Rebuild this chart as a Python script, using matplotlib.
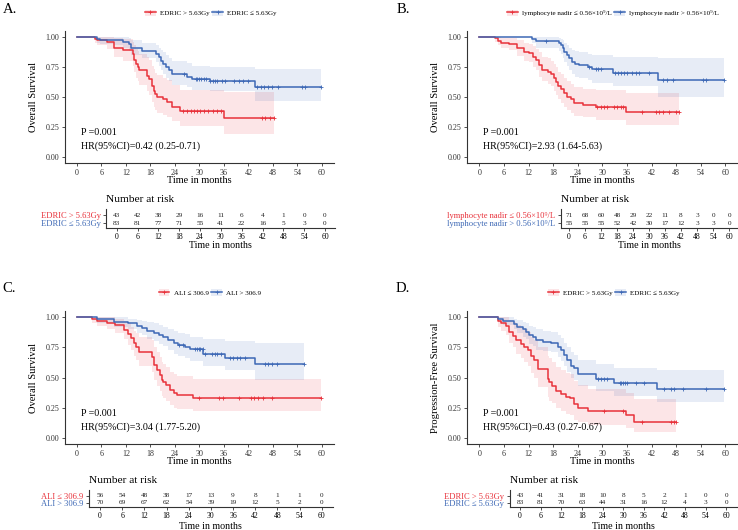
import numpy as np
import matplotlib
matplotlib.use("Agg")
import matplotlib.pyplot as plt
from matplotlib.patches import Rectangle
from matplotlib.lines import Line2D

plt.rcParams['font.family'] = ['Liberation Serif', 'DejaVu Serif']

W, H = 738, 530
RED = '#E8313A'
BLUE = '#3D68B5'
FILL_ALPHA = 0.12

months = [0, 6, 12, 18, 24, 30, 36, 42, 48, 54, 60]

# ---- A: OS by EDRIC ----
a_labels = ['EDRIC > 5.63Gy', 'EDRIC \u2264 5.63Gy']
a_hr = 'HR(95%CI)=0.42 (0.25-0.71)'
a_red_t = [0, 4.5, 5.0, 7.3, 9.0, 11.4, 13.7, 14.1, 14.5, 15.0, 15.3, 17.1, 17.6, 18.4, 18.8, 19.2, 19.6, 21.2, 22.0, 23.3, 25.3, 36.1]
a_red_s = [1.0, 0.983, 0.972, 0.959, 0.909, 0.887, 0.854, 0.81, 0.77, 0.745, 0.72, 0.675, 0.647, 0.59, 0.55, 0.523, 0.50, 0.482, 0.46, 0.42, 0.386, 0.325]
a_red_lo = [1.0, 0.95, 0.93, 0.90, 0.83, 0.80, 0.76, 0.71, 0.66, 0.63, 0.60, 0.55, 0.52, 0.46, 0.42, 0.39, 0.37, 0.35, 0.33, 0.30, 0.26, 0.19]
a_red_hi = [1.0, 1.0, 1.0, 1.0, 0.99, 0.98, 0.96, 0.93, 0.90, 0.88, 0.86, 0.83, 0.81, 0.76, 0.73, 0.70, 0.68, 0.66, 0.64, 0.60, 0.56, 0.54]
a_red_cens = [26.1, 27.0, 28.0, 28.8, 29.4, 30.2, 31.2, 32.2, 33.3, 34.4, 35.3, 45.4, 46.1, 47.2, 48.2]
a_blue_t = [0, 4.9, 5.7, 9.0, 11.4, 12.7, 13.2, 15.9, 19.4, 20.0, 20.6, 21.2, 21.8, 22.5, 23.2, 26.9, 28.1, 32.7, 43.7]
a_blue_s = [1.0, 0.983, 0.976, 0.97, 0.956, 0.937, 0.909, 0.882, 0.855, 0.83, 0.80, 0.77, 0.745, 0.72, 0.69, 0.669, 0.647, 0.634, 0.587]
a_blue_lo = [1.0, 0.95, 0.94, 0.93, 0.91, 0.88, 0.85, 0.82, 0.79, 0.76, 0.72, 0.69, 0.66, 0.63, 0.60, 0.58, 0.56, 0.55, 0.47]
a_blue_hi = [1.0, 1.0, 1.0, 1.0, 1.0, 0.99, 0.97, 0.95, 0.93, 0.91, 0.89, 0.87, 0.85, 0.82, 0.80, 0.78, 0.76, 0.75, 0.73]
a_blue_cens = [26.3, 29.1, 29.5, 30.0, 30.5, 31.1, 31.7, 32.7, 33.3, 33.9, 34.4, 35.5, 36.3, 38.4, 39.6, 40.8, 42.0, 44.1, 45.1, 45.9, 46.9, 47.7, 49.2, 55.1, 55.9, 59.8]
a_red_n = [43, 42, 38, 29, 16, 11, 6, 4, 1, 0, 0]
a_blue_n = [83, 81, 77, 71, 55, 41, 22, 16, 5, 3, 0]

# ---- B: OS by lymphocyte nadir ----
b_labels = ['lymphocyte nadir \u2264 0.56\u00d710\u2079/L', 'lymphocyte nadir > 0.56\u00d710\u2079/L']
b_hr = 'HR(95%CI)=2.93 (1.64-5.63)'
b_red_t = [0, 3.9, 4.5, 5.3, 7.3, 9.3, 11.0, 12.2, 13.0, 13.8, 14.6, 15.4, 16.7, 17.5, 18.3, 18.7, 19.3, 19.9, 20.7, 21.5, 22.4, 23.2, 25.2, 28.5, 35.9]
b_red_s = [1.0, 0.986, 0.967, 0.95, 0.94, 0.903, 0.875, 0.867, 0.834, 0.807, 0.765, 0.724, 0.71, 0.69, 0.655, 0.627, 0.59, 0.563, 0.53, 0.497, 0.48, 0.447, 0.434, 0.42, 0.378]
b_red_lo = [1.0, 0.96, 0.93, 0.91, 0.89, 0.84, 0.80, 0.79, 0.75, 0.72, 0.67, 0.63, 0.61, 0.59, 0.55, 0.52, 0.48, 0.45, 0.42, 0.39, 0.37, 0.34, 0.33, 0.31, 0.27]
b_red_hi = [1.0, 1.0, 1.0, 0.99, 0.99, 0.97, 0.95, 0.94, 0.92, 0.90, 0.87, 0.83, 0.82, 0.80, 0.77, 0.75, 0.71, 0.69, 0.66, 0.63, 0.61, 0.58, 0.57, 0.56, 0.53]
b_red_cens = [28.8, 29.6, 30.4, 31.2, 32.8, 33.6, 34.5, 35.1, 39.8, 43.1, 43.9, 44.7, 46.3, 48.0, 48.8]
b_blue_t = [0, 12.8, 13.8, 19.5, 19.9, 20.3, 20.7, 21.3, 21.9, 22.5, 23.3, 24.4, 26.4, 27.6, 32.5, 43.5]
b_blue_s = [1.0, 0.982, 0.964, 0.945, 0.93, 0.903, 0.875, 0.848, 0.82, 0.793, 0.773, 0.765, 0.75, 0.73, 0.70, 0.64]
b_blue_lo = [1.0, 0.95, 0.91, 0.88, 0.86, 0.82, 0.79, 0.76, 0.72, 0.69, 0.67, 0.66, 0.64, 0.62, 0.59, 0.50]
b_blue_hi = [1.0, 1.0, 1.0, 0.99, 0.98, 0.97, 0.95, 0.93, 0.91, 0.89, 0.88, 0.87, 0.86, 0.85, 0.83, 0.82]
b_blue_cens = [16.3, 26.8, 28.4, 29.0, 29.6, 33.2, 33.9, 34.5, 35.3, 36.1, 37.3, 38.1, 38.9, 41.3, 44.7, 45.9, 47.3, 54.5, 55.4, 59.8]
b_red_n = [71, 68, 60, 48, 29, 22, 11, 8, 3, 0, 0]
b_blue_n = [55, 55, 55, 52, 42, 30, 17, 12, 3, 3, 0]

# ---- C: OS by ALI ----
c_labels = ['ALI \u2264 306.9', 'ALI > 306.9']
c_hr = 'HR(95%CI)=3.04 (1.77-5.20)'
c_red_t = [0, 3.7, 4.9, 7.3, 9.4, 11.6, 12.4, 13.2, 14.0, 14.5, 15.3, 18.4, 18.8, 19.6, 20.3, 20.8, 21.2, 21.9, 22.9, 23.7, 24.5, 28.4]
c_red_s = [1.0, 0.986, 0.972, 0.956, 0.936, 0.895, 0.86, 0.826, 0.784, 0.756, 0.715, 0.673, 0.605, 0.563, 0.52, 0.48, 0.46, 0.44, 0.40, 0.37, 0.355, 0.335]
c_red_lo = [1.0, 0.95, 0.93, 0.90, 0.87, 0.82, 0.77, 0.73, 0.68, 0.65, 0.60, 0.55, 0.48, 0.43, 0.39, 0.35, 0.33, 0.31, 0.27, 0.25, 0.24, 0.22]
c_red_hi = [1.0, 1.0, 1.0, 1.0, 0.99, 0.97, 0.95, 0.92, 0.89, 0.87, 0.84, 0.81, 0.75, 0.71, 0.67, 0.63, 0.61, 0.59, 0.55, 0.53, 0.51, 0.49]
c_red_cens = [29.8, 34.9, 35.7, 39.6, 42.6, 43.5, 44.3, 45.5, 47.8, 59.8]
c_blue_t = [0, 4.9, 9.0, 12.6, 14.6, 15.9, 17.1, 18.8, 20.0, 21.2, 22.4, 23.7, 24.8, 26.5, 27.7, 30.9, 36.2, 43.6]
c_blue_s = [1.0, 0.986, 0.964, 0.95, 0.928, 0.91, 0.89, 0.873, 0.853, 0.834, 0.81, 0.79, 0.77, 0.75, 0.734, 0.70, 0.665, 0.61]
c_blue_lo = [1.0, 0.95, 0.92, 0.90, 0.87, 0.85, 0.82, 0.80, 0.78, 0.76, 0.73, 0.70, 0.68, 0.66, 0.64, 0.60, 0.56, 0.48]
c_blue_hi = [1.0, 1.0, 1.0, 0.99, 0.98, 0.97, 0.96, 0.95, 0.94, 0.92, 0.90, 0.89, 0.87, 0.86, 0.84, 0.82, 0.80, 0.79]
c_blue_cens = [24.9, 26.1, 29.0, 29.4, 29.8, 30.2, 30.8, 31.4, 33.1, 33.9, 34.3, 35.3, 37.5, 38.3, 39.3, 39.9, 41.3, 46.1, 46.9, 47.8, 49.0, 55.7]
c_red_n = [56, 54, 48, 38, 17, 13, 9, 8, 1, 1, 0]
c_blue_n = [70, 69, 67, 62, 54, 39, 19, 12, 5, 2, 0]

# ---- D: PFS by EDRIC ----
d_labels = ['EDRIC > 5.63Gy', 'EDRIC \u2264 5.63Gy']
d_hr = 'HR(95%CI)=0.43 (0.27-0.67)'
d_red_t = [0, 4.5, 5.3, 6.5, 7.3, 8.1, 8.9, 10.2, 11.0, 11.8, 12.6, 13.4, 14.2, 16.7, 17.1, 17.7, 18.7, 19.9, 21.1, 22.0, 23.2, 24.0, 26.4, 35.8, 37.8]
d_red_s = [1.0, 0.972, 0.95, 0.925, 0.88, 0.845, 0.81, 0.78, 0.757, 0.73, 0.68, 0.645, 0.568, 0.49, 0.46, 0.434, 0.39, 0.363, 0.343, 0.335, 0.28, 0.25, 0.22, 0.187, 0.135]
d_red_lo = [1.0, 0.92, 0.89, 0.85, 0.79, 0.75, 0.70, 0.66, 0.63, 0.60, 0.54, 0.50, 0.42, 0.34, 0.31, 0.29, 0.25, 0.22, 0.20, 0.19, 0.15, 0.13, 0.11, 0.08, 0.05]
d_red_hi = [1.0, 1.0, 1.0, 1.0, 0.98, 0.96, 0.94, 0.92, 0.90, 0.88, 0.84, 0.81, 0.75, 0.68, 0.66, 0.63, 0.59, 0.56, 0.54, 0.53, 0.47, 0.44, 0.41, 0.37, 0.32]
d_red_cens = [30.5, 35.0, 39.7, 46.7, 47.5, 48.0]
d_blue_t = [0, 4.5, 5.7, 8.5, 9.3, 10.6, 11.4, 12.2, 13.0, 13.8, 15.5, 17.5, 19.1, 19.9, 20.7, 21.5, 22.4, 23.2, 24.0, 28.4, 32.9, 43.3]
d_blue_s = [1.0, 0.986, 0.972, 0.945, 0.92, 0.90, 0.88, 0.853, 0.834, 0.81, 0.797, 0.79, 0.757, 0.73, 0.687, 0.645, 0.60, 0.576, 0.53, 0.49, 0.455, 0.41]
d_blue_lo = [1.0, 0.96, 0.94, 0.90, 0.87, 0.84, 0.82, 0.78, 0.76, 0.73, 0.72, 0.71, 0.67, 0.64, 0.60, 0.55, 0.50, 0.48, 0.43, 0.39, 0.35, 0.30]
d_blue_hi = [1.0, 1.0, 1.0, 0.99, 0.98, 0.96, 0.95, 0.93, 0.92, 0.90, 0.89, 0.88, 0.85, 0.83, 0.79, 0.75, 0.71, 0.69, 0.65, 0.61, 0.58, 0.56]
d_blue_cens = [29.0, 29.8, 30.5, 31.2, 34.2, 34.6, 35.1, 35.6, 36.1, 38.1, 40.2, 45.1, 46.7, 47.6, 49.6, 55.3, 59.8]
d_red_n = [43, 41, 31, 18, 10, 8, 5, 2, 1, 0, 0]
d_blue_n = [83, 81, 70, 63, 44, 31, 16, 12, 4, 3, 0]


fig = plt.figure(figsize=(7.38, 5.30), dpi=100)


def box(x0, y0, x1, y1):
    # pixel box (top-left origin) -> figure fraction
    return [x0 / W, 1 - y1 / H, (x1 - x0) / W, (y1 - y0) / H]


def km(ax, t, s, lo, hi, cens, color):
    t = np.array(t)
    s = np.array(s)
    end = max(cens[-1], t[-1])
    tt = np.append(t, end)
    ax.fill_between(tt, np.append(lo, lo[-1]), np.append(hi, hi[-1]), step='post',
                    color=color, alpha=FILL_ALPHA, lw=0)
    ax.step(tt, np.append(s, s[-1]), where='post', color=color, lw=1.1)
    idx = np.searchsorted(t, cens, side='right') - 1
    ax.plot(cens, s[idx], ls='none', marker='+', ms=3.2, mew=0.6, color=color)


def panel(rect, red, blue, labels, ylabel, hr, letter, letter_xy, leg_xy):
    ax = fig.add_axes(box(*rect))
    km(ax, *red, RED)
    km(ax, *blue, BLUE)
    ax.set_xlim(-3, 63)
    ax.set_ylim(-0.05, 1.05)
    ax.set_xticks(months)
    ax.set_yticks([0, 0.25, 0.5, 0.75, 1.0])
    ax.set_yticklabels(['0.00', '0.25', '0.50', '0.75', '1.00'])
    for sp in ['top', 'right']:
        ax.spines[sp].set_visible(False)
    for sp in ['left', 'bottom']:
        ax.spines[sp].set_linewidth(0.8)
        ax.spines[sp].set_color('#333333')
    ax.tick_params(length=2, width=0.6, color='#333333', labelsize=5.8, pad=2, labelcolor='#333333')
    ax.text(1, 0.204, 'P =0.001', fontsize=7.2, va='center')
    ax.text(1, 0.088, hr, fontsize=7.2, va='center')
    ax.set_xlabel('Time in months', fontsize=7.4)
    ax.xaxis.set_label_coords(0.5, -0.095)
    ax.set_ylabel(ylabel, fontsize=7.6)
    ax.yaxis.set_label_coords(-0.1, 0.5)
    fig.text(letter_xy[0] / W, 1 - letter_xy[1] / H, letter, fontsize=10.5, va='center', ha='left')
    handles = [(Rectangle((0, 0), 1, 1, fc=RED, alpha=FILL_ALPHA, lw=0),
                Line2D([], [], color=RED, lw=1.1, marker='+', ms=3.2, mew=0.6)),
               (Rectangle((0, 0), 1, 1, fc=BLUE, alpha=FILL_ALPHA, lw=0),
                Line2D([], [], color=BLUE, lw=1.1, marker='+', ms=3.2, mew=0.6))]
    fig.legend(handles, labels, loc='center', ncol=2, frameon=False, fontsize=5.1,
               bbox_to_anchor=(leg_xy[0] / W, 1 - leg_xy[1] / H), bbox_transform=fig.transFigure,
               handlelength=1.5, handleheight=1.0, handletextpad=0.6, columnspacing=0.4,
               borderpad=0, borderaxespad=0)
    return ax


def risk(rect, red_n, blue_n, labels, title_y, xlab_y):
    ax = fig.add_axes(box(*rect))
    ax.set_xlim(-3, 63)
    ax.set_ylim(0.47, 2.723)
    for m, n in zip(months, red_n):
        ax.text(m, 2, str(n), ha='center', va='center', fontsize=5.2, color='#222222')
    for m, n in zip(months, blue_n):
        ax.text(m, 1, str(n), ha='center', va='center', fontsize=5.2, color='#222222')
    ax.set_xticks(months)
    ax.set_yticks([2, 1])
    ax.set_yticklabels(labels, fontsize=6.1)
    ax.get_yticklabels()[0].set_color(RED)
    ax.get_yticklabels()[1].set_color(BLUE)
    for sp in ['top', 'right']:
        ax.spines[sp].set_visible(False)
    for sp in ['left', 'bottom']:
        ax.spines[sp].set_linewidth(0.8)
        ax.spines[sp].set_color('#333333')
    ax.tick_params(axis='x', length=2, width=0.6, color='#333333', labelsize=5.6, pad=2)
    ax.tick_params(axis='y', length=2, width=0.6, color='#333333', pad=2)
    ax.set_xlabel('Time in months', fontsize=7.2)
    ax.xaxis.set_label_coords(0.5, xlab_y)
    fig.text(rect[0] / W, 1 - title_y / H, 'Number at risk', fontsize=8.2, va='center', ha='left')
    return ax


panel((64.7, 30.7, 334.0, 163.3),
      (a_red_t, a_red_s, a_red_lo, a_red_hi, a_red_cens),
      (a_blue_t, a_blue_s, a_blue_lo, a_blue_hi, a_blue_cens),
      a_labels, 'Overall Survival', a_hr, 'A.', (3, 9.5), (211, 13))
panel((467.0, 30.7, 737.6, 163.3),
      (b_red_t, b_red_s, b_red_lo, b_red_hi, b_red_cens),
      (b_blue_t, b_blue_s, b_blue_lo, b_blue_hi, b_blue_cens),
      b_labels, 'Overall Survival', b_hr, 'B.', (397, 9.5), (613, 13))
panel((64.7, 311.3, 334.0, 444.0),
      (c_red_t, c_red_s, c_red_lo, c_red_hi, c_red_cens),
      (c_blue_t, c_blue_s, c_blue_lo, c_blue_hi, c_blue_cens),
      c_labels, 'Overall Survival', c_hr, 'C.', (2, 289), (210, 292.7))
panel((467.0, 311.3, 737.6, 444.0),
      (d_red_t, d_red_s, d_red_lo, d_red_hi, d_red_cens),
      (d_blue_t, d_blue_s, d_blue_lo, d_blue_hi, d_blue_cens),
      d_labels, 'Progression-Free Survival', d_hr, 'D.', (396, 289), (614, 292.7))

risk((106.3, 209.0, 335.4, 227.7), a_red_n, a_blue_n, a_labels, 200, -0.72)
risk((561.0, 209.0, 737.0, 227.7), b_red_n, b_blue_n, b_labels, 200, -0.72)
risk((88.9, 490.3, 332.8, 506.7), c_red_n, c_blue_n, c_labels, 480.7, -0.93)
risk((509.7, 490.3, 736.6, 506.7), d_red_n, d_blue_n, d_labels, 480.7, -0.93)

fig.savefig('out.png', dpi=100)
